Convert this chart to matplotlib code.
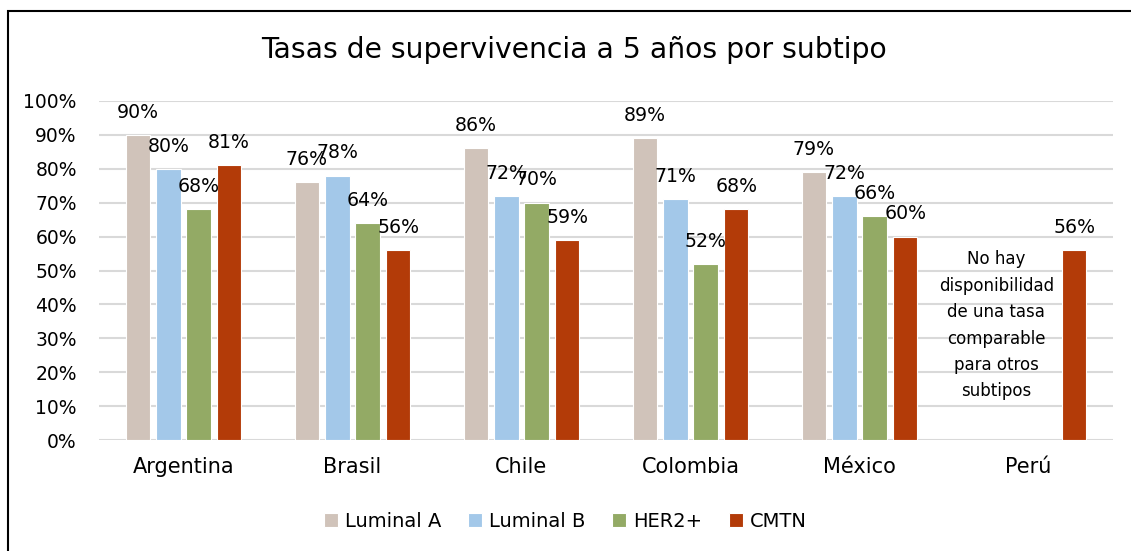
import matplotlib
matplotlib.use("Agg")
import matplotlib.pyplot as plt
import numpy as np
from matplotlib.patches import Rectangle

plt.rcParams['font.family'] = ['DejaVu Sans']

countries = ["Argentina", "Brasil", "Chile", "Colombia", "México", "Perú"]
series = ["Luminal A", "Luminal B", "HER2+", "CMTN"]
luminal_a = [90, 76, 86, 89, 79, np.nan]
luminal_b = [80, 78, 72, 71, 72, np.nan]
her2 = [68, 64, 70, 52, 66, np.nan]
cmtn = [81, 56, 59, 68, 60, 56]
colors = ["#D0C3BA", "#A3C8E9", "#93AA65", "#B33B08"]
title = "Tasas de supervivencia a 5 años por subtipo"
note = "No hay\ndisponibilidad\nde una tasa\ncomparable\npara otros\nsubtipos"

W, H = 1131, 551
fig = plt.figure(figsize=(W / 100, H / 100), dpi=100)
ax = fig.add_axes([99 / W, 1 - 440 / H, (1113 - 99) / W, (440 - 101) / H])

data = [luminal_a, luminal_b, her2, cmtn]
x = np.arange(len(countries))
bw = 0.145
step = 0.18
for i, (vals, c, name) in enumerate(zip(data, colors, series)):
    pos = x + (i - 1.5) * step
    v = np.array(vals, dtype=float) / 100
    ax.bar(pos, v, width=bw, color=c, edgecolor="white", linewidth=0.8,
           label=name, zorder=3)
    for p, val in zip(pos, vals):
        if not np.isnan(val):
            ax.text(p, val / 100 + 0.067, f"{int(val)}%", ha="center", va="center",
                    fontsize=13.6, color="black", zorder=4)

ax.text(x[-1] - 0.19, 0.338, note, ha="center", va="center", fontsize=12,
        linespacing=1.6, zorder=4)

ax.set_xlim(-0.5, len(countries) - 0.5)
ax.set_ylim(0, 1.0)
ticks = np.arange(0, 1.01, 0.1)
ax.set_yticks(ticks)
ax.set_yticklabels([f"{int(round(t * 100))}%" for t in ticks], fontsize=13.5)
ax.set_xticks(x)
ax.set_xticklabels(countries, fontsize=15)
ax.tick_params(axis="both", length=0)
ax.tick_params(axis="x", pad=12)
ax.tick_params(axis="y", pad=16)
ax.grid(axis="y", color="#D9D9D9", linewidth=1.5, zorder=0)
for s in ax.spines.values():
    s.set_visible(False)

fig.text(574 / W, 1 - 50 / H, title, ha="center", va="center", fontsize=20.3)

ax.legend(loc="center", bbox_to_anchor=(0.46, -0.24), ncol=4, frameon=False,
          fontsize=14, handlelength=0.7, handleheight=0.7, handletextpad=0.35,
          columnspacing=1.4)

fig.patches.append(Rectangle((8 / W, -0.1), 1.2, 1 - 11 / H + 0.1, transform=fig.transFigure,
                             fill=False, edgecolor="black", linewidth=1.5))

fig.savefig("out.png", dpi=100)
